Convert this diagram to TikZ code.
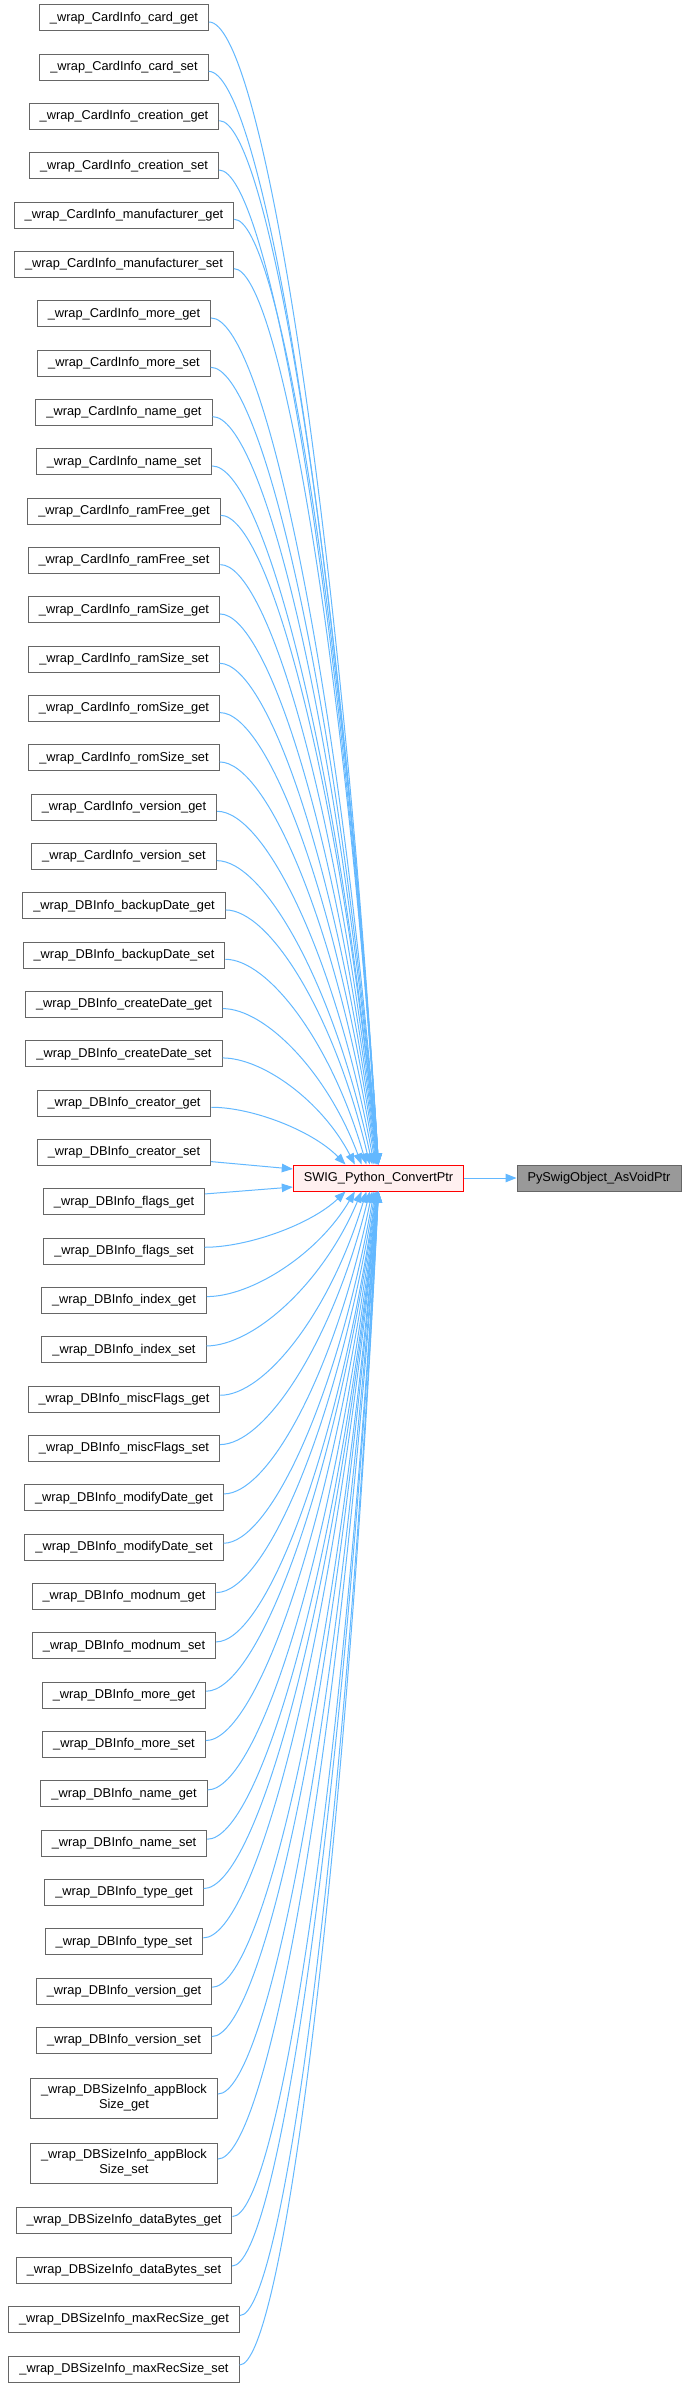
\documentclass[tikz,border=0pt]{standalone}
\usepackage{fontspec}
\setmainfont{Liberation Sans}
\usetikzlibrary{calc,arrows.meta}
\definecolor{nodeborder}{HTML}{666666}
\definecolor{edgeblue}{HTML}{63B8FF}
\definecolor{swfill}{HTML}{FFF0F0}
\definecolor{swborder}{HTML}{FF0000}
\definecolor{pyfill}{HTML}{999999}
\tikzset{
  fn/.style={draw=nodeborder, fill=white, line width=1pt, inner xsep=10.5pt, inner ysep=0pt,
    minimum height=26pt, font=\fontsize{12.8}{15}\selectfont, align=center},
  fntwo/.style={fn, minimum height=40pt},
  swnode/.style={fn, draw=swborder, fill=swfill},
  pynode/.style={fn, fill=pyfill},
  edge/.style={draw=edgeblue, line width=1pt, -{Triangle[length=11pt,width=8.5pt]}, fill=none}
}
\begin{document}
\begin{tikzpicture}[x=1pt,y=1pt]
\useasboundingbox (0,0) rectangle (690,-2387);
\foreach \lab [count=\i] in {CardInfo\_card\_get, CardInfo\_card\_set, CardInfo\_creation\_get, CardInfo\_creation\_set, CardInfo\_manufacturer\_get, CardInfo\_manufacturer\_set, CardInfo\_more\_get, CardInfo\_more\_set, CardInfo\_name\_get, CardInfo\_name\_set, CardInfo\_ramFree\_get, CardInfo\_ramFree\_set, CardInfo\_ramSize\_get, CardInfo\_ramSize\_set, CardInfo\_romSize\_get, CardInfo\_romSize\_set, CardInfo\_version\_get, CardInfo\_version\_set, DBInfo\_backupDate\_get, DBInfo\_backupDate\_set, DBInfo\_createDate\_get, DBInfo\_createDate\_set, DBInfo\_creator\_get, DBInfo\_creator\_set, DBInfo\_flags\_get, DBInfo\_flags\_set, DBInfo\_index\_get, DBInfo\_index\_set, DBInfo\_miscFlags\_get, DBInfo\_miscFlags\_set, DBInfo\_modifyDate\_get, DBInfo\_modifyDate\_set, DBInfo\_modnum\_get, DBInfo\_modnum\_set, DBInfo\_more\_get, DBInfo\_more\_set, DBInfo\_name\_get, DBInfo\_name\_set, DBInfo\_type\_get, DBInfo\_type\_set, DBInfo\_version\_get, DBInfo\_version\_set}{
  \pgfmathsetmacro\yy{-(18+(\i-1)*49.33)}
  \node[fn] (n\i) at (124,\yy) {\_wrap\_\lab};
}
\node[fntwo] (n43) at (124,-2098) {\_wrap\_DBSizeInfo\_appBlock\\Size\_get};
\node[fntwo] (n44) at (124,-2163) {\_wrap\_DBSizeInfo\_appBlock\\Size\_set};
\node[fn] (n45) at (124,-2220.5) {\_wrap\_DBSizeInfo\_dataBytes\_get};
\node[fn] (n46) at (124,-2270) {\_wrap\_DBSizeInfo\_dataBytes\_set};
\node[fn] (n47) at (124,-2319.5) {\_wrap\_DBSizeInfo\_maxRecSize\_get};
\node[fn] (n48) at (124,-2369) {\_wrap\_DBSizeInfo\_maxRecSize\_set};

\node[swnode] (sw) at (378.5,-1178) {SWIG\_Python\_ConvertPtr};
\node[pynode] (py) at (599,-1178) {PySwigObject\_AsVoidPtr};

% upper edges
\foreach \i in {1,...,23}{
  \pgfmathsetmacro\off{-33*exp(-(23-\i)/3)}
  \draw[edge] let \p1=($(n\i.east)+(0,-4)$), \p2=($(sw.north)+(\off,0)$),
     \n1={\x2-\x1}, \n2={\y1-\y2} in
     (\p1) .. controls +(0.3*\n1,0) and +(-0.25*\n1,0.6*\n2) .. (\p2);
}
% lower edges
\foreach \i in {26,...,48}{
  \pgfmathsetmacro\off{-33*exp(-(\i-26)/3)}
  \draw[edge] let \p1=($(n\i.east)+(0,4)$), \p2=($(sw.south)+(\off,0)$),
     \n1={\x2-\x1}, \n2={\y2-\y1} in
     (\p1) .. controls +(0.3*\n1,0) and +(-0.25*\n1,-0.6*\n2) .. (\p2);
}
\draw[edge] ($(n24.east)+(0,-9)$) -- ($(sw.west)+(0,9)$);
\draw[edge] ($(n25.east)+(0,8)$) -- ($(sw.west)+(0,-9)$);
\draw[edge] (sw) -- (py);
\end{tikzpicture}
\end{document}
